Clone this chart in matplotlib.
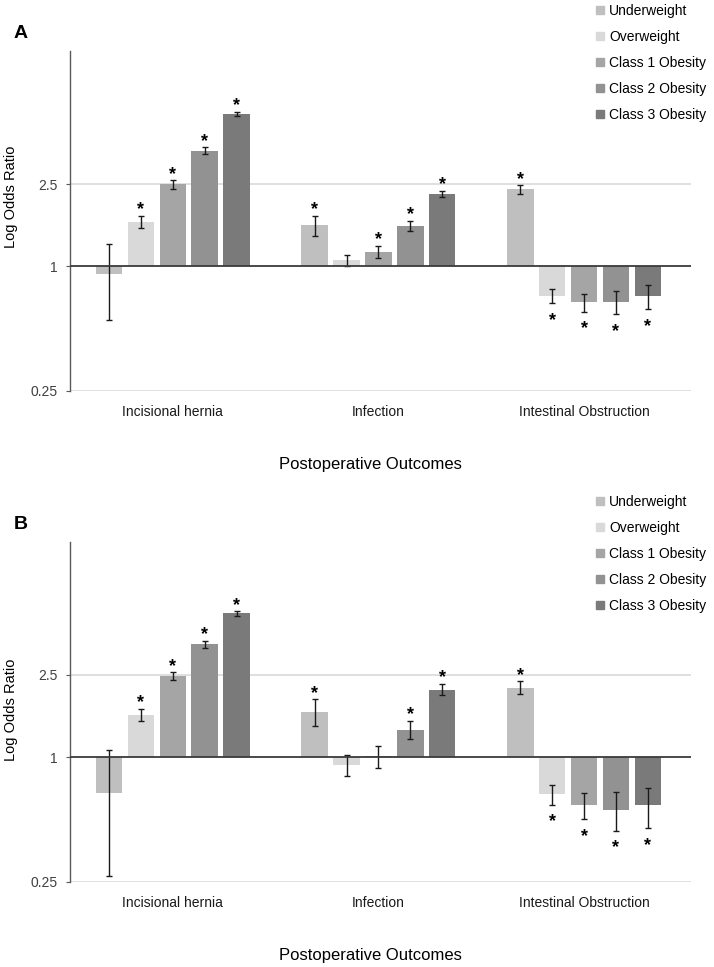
import matplotlib
matplotlib.use("Agg")
import matplotlib.pyplot as plt
from matplotlib.lines import Line2D
from matplotlib.ticker import FixedLocator, NullLocator
import numpy as np

plt.rcParams['font.family'] = ['Liberation Sans', 'DejaVu Sans']

outcomes = ["Incisional hernia", "Infection", "Intestinal Obstruction"]
groups = ["Underweight", "Overweight", "Class 1 Obesity", "Class 2 Obesity", "Class 3 Obesity"]
colors = ["#bfbfbf", "#d9d9d9", "#a5a5a5", "#929292", "#7a7a7a"]

# panel A  (rows = outcome, cols = BMI group)
or_a = [[0.92, 1.64, 2.50, 3.62, 5.47],
        [1.58, 1.08, 1.18, 1.56, 2.24],
        [2.36, 0.72, 0.67, 0.67, 0.72]]
lo_a = [[0.55, 1.54, 2.38, 3.49, 5.35],
        [1.41, 1.00, 1.10, 1.48, 2.16],
        [2.25, 0.665, 0.603, 0.586, 0.62]]
hi_a = [[1.29, 1.76, 2.61, 3.76, 5.59],
        [1.76, 1.14, 1.26, 1.66, 2.32],
        [2.47, 0.777, 0.734, 0.757, 0.81]]
sig_a = [[0, 1, 1, 1, 1],
         [1, 0, 1, 1, 1],
         [1, 1, 1, 1, 1]]

# panel B
or_b = [[0.672, 1.60, 2.46, 3.52, 4.95],
        [1.65, 0.915, 1.01, 1.35, 2.12],
        [2.17, 0.66, 0.586, 0.558, 0.584]]
lo_b = [[0.265, 1.49, 2.35, 3.38, 4.81],
        [1.42, 0.81, 0.89, 1.22, 2.00],
        [2.03, 0.588, 0.50, 0.44, 0.454]]
hi_b = [[1.085, 1.71, 2.58, 3.65, 5.08],
        [1.90, 1.02, 1.13, 1.50, 2.26],
        [2.33, 0.73, 0.67, 0.675, 0.713]]
sig_b = [[0, 1, 1, 1, 1],
         [1, 0, 0, 1, 1],
         [1, 1, 1, 1, 1]]

W, H = 714, 967
fig = plt.figure(figsize=(W / 100, H / 100), dpi=100)


def panel(top_px, letter, ylab_px, vals, lo, hi, sig):
    ax_h = 340
    ax = fig.add_axes([70 / W, 1 - (top_px + ax_h) / H, 621 / W, ax_h / H])
    vals = np.array(vals)
    lo = np.array(lo)
    hi = np.array(hi)
    x = np.arange(len(outcomes))
    step = 0.155
    for j, g in enumerate(groups):
        xs = x + (j - 2) * step
        v = vals[:, j]
        ax.bar(xs, v - 1, bottom=1, width=0.129, color=colors[j], zorder=2)
        ax.errorbar(xs, v, yerr=[v - lo[:, j], hi[:, j] - v], fmt='none',
                    ecolor='#1a1a1a', elinewidth=1, capsize=2, capthick=1, zorder=3)
        for i in range(len(outcomes)):
            if not sig[i][j]:
                continue
            if v[i] >= 1:
                ax.annotate("*", (xs[i], hi[i, j]), xytext=(0, 1), textcoords='offset points',
                            ha='center', va='baseline', fontsize=13, fontweight='bold')
            else:
                ax.annotate("*", (xs[i], lo[i, j]), xytext=(0, -15.5), textcoords='offset points',
                            ha='center', va='baseline', fontsize=13, fontweight='bold')
    ax.set_yscale('log')
    ax.set_ylim(0.25, 11)
    ax.set_xlim(-0.5, 2.52)
    ax.yaxis.set_major_locator(FixedLocator([0.25, 1, 2.5]))
    ax.yaxis.set_minor_locator(NullLocator())
    ax.set_yticklabels(["0.25", "1", "2.5"])
    ax.set_xticks(x)
    ax.set_xticklabels(outcomes)
    for yv in [0.25, 2.5]:
        ax.axhline(yv, color='#d9d9d9', lw=1.2, zorder=1)
    ax.axhline(1, color='#3a3a3a', lw=1.3, zorder=4)
    for s in ['top', 'right', 'bottom']:
        ax.spines[s].set_visible(False)
    ax.spines['left'].set_color('#595959')
    ax.spines['left'].set_linewidth(1)
    ax.tick_params(axis='x', length=0, pad=10, labelsize=10, labelcolor='#1a1a1a')
    ax.tick_params(axis='y', length=3, width=0.8, color='#595959', pad=6,
                   labelsize=10, labelcolor='#404040')

    fig.text(21 / W, 1 - (top_px - 17) / H, letter, fontsize=14, fontweight='bold',
             ha='center', va='center')
    fig.text(11.5 / W, 1 - ylab_px / H, "Log Odds Ratio", rotation=90, fontsize=10.5,
             ha='center', va='center')
    fig.text(370 / W, 1 - (top_px + ax_h + 74) / H, "Postoperative Outcomes", fontsize=12,
             ha='center', va='center')

    handles = [Line2D([], [], marker='s', linestyle='none', markersize=5.5,
                      markerfacecolor=c, markeredgecolor=c) for c in colors]
    fig.legend(handles, groups, loc='upper left', frameon=False, fontsize=10,
               bbox_to_anchor=(596 / W, 1 - (top_px - 47) / H), bbox_transform=fig.transFigure,
               borderpad=0, borderaxespad=0, labelspacing=0.87, handlelength=0.6,
               handletextpad=0.35)
    return ax


panel(51, "A", 197, or_a, lo_a, hi_a, sig_a)
panel(541.7, "B", 710, or_b, lo_b, hi_b, sig_b)

plt.savefig("out.png", dpi=100)
